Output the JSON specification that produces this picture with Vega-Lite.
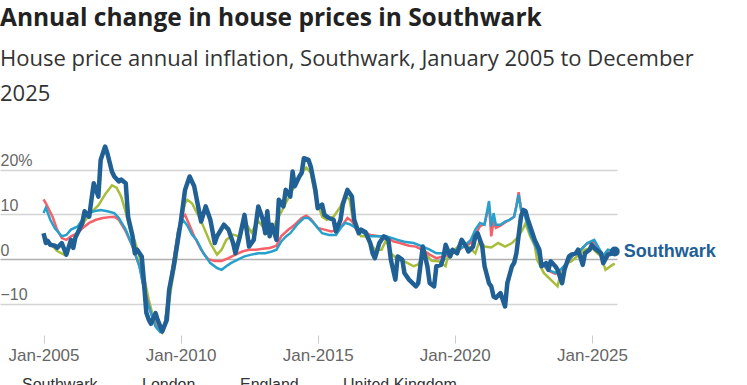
{
  "$schema": "https://vega.github.io/schema/vega-lite/v6.json",
  "autosize": {"type": "none"},
  "width": 617,
  "height": 192,
  "padding": {"left": 0, "top": 143, "right": 130, "bottom": 50},
  "background": "white",
  "title": {
    "text": "Annual change in house prices in Southwark",
    "subtitle": ["House price annual inflation, Southwark, January 2005 to December", "2025"],
    "anchor": "start",
    "frame": "group",
    "font": "Open Sans",
    "fontWeight": "bold",
    "fontSize": 24.5,
    "color": "#222222",
    "subtitleFont": "Open Sans",
    "subtitleFontSize": 22,
    "subtitleColor": "#333333",
    "subtitleLineHeight": 35,
    "subtitlePadding": 18,
    "offset": 37
  },
  "datasets": {
    "southwark": [
      {"d":"2005-01","v":5.8},{"d":"2005-02","v":3.6},{"d":"2005-03","v":4.0},{"d":"2005-04","v":3.2},{"d":"2005-06","v":3.0},{"d":"2005-07","v":2.5},{"d":"2005-09","v":3.6},{"d":"2005-11","v":1.0},
      {"d":"2006-01","v":4.3},{"d":"2006-02","v":2.5},{"d":"2006-03","v":4.8},{"d":"2006-06","v":8.1},{"d":"2006-07","v":10.7},{"d":"2006-09","v":9.5},{"d":"2006-10","v":13.3},{"d":"2006-11","v":17.0},
      {"d":"2007-01","v":14.0},{"d":"2007-02","v":22.2},{"d":"2007-04","v":25.2},{"d":"2007-05","v":23.7},{"d":"2007-07","v":19.6},{"d":"2007-08","v":18.5},{"d":"2007-10","v":17.4},{"d":"2007-11","v":17.8},
      {"d":"2008-01","v":17.0},{"d":"2008-02","v":9.5},{"d":"2008-04","v":5.1},{"d":"2008-05","v":1.3},{"d":"2008-06","v":2.1},{"d":"2008-08","v":0.6},{"d":"2008-09","v":-5.4},{"d":"2008-10","v":-12.0},{"d":"2008-11","v":-13.5},{"d":"2008-12","v":-14.5},
      {"d":"2009-02","v":-12.1},{"d":"2009-03","v":-13.6},{"d":"2009-05","v":-16.2},{"d":"2009-07","v":-13.6},{"d":"2009-08","v":-6.9},{"d":"2009-10","v":-1.6},
      {"d":"2010-01","v":8.1},{"d":"2010-03","v":15.5},{"d":"2010-05","v":18.5},{"d":"2010-07","v":16.3},{"d":"2010-09","v":11.0},{"d":"2010-10","v":8.4},{"d":"2010-12","v":11.8},
      {"d":"2011-02","v":8.8},{"d":"2011-04","v":3.6},{"d":"2011-05","v":5.1},{"d":"2011-08","v":7.7},{"d":"2011-10","v":6.6},{"d":"2011-12","v":3.6},
      {"d":"2012-01","v":1.3},{"d":"2012-03","v":5.1},{"d":"2012-05","v":9.9},{"d":"2012-07","v":2.8},{"d":"2012-09","v":4.3},{"d":"2012-11","v":11.8},
      {"d":"2013-01","v":8.8},{"d":"2013-02","v":5.8},{"d":"2013-03","v":10.7},{"d":"2013-04","v":5.1},{"d":"2013-05","v":7.7},{"d":"2013-07","v":4.3},{"d":"2013-08","v":13.3},{"d":"2013-10","v":11.8},{"d":"2013-11","v":15.5},
      {"d":"2014-01","v":14.0},{"d":"2014-02","v":19.6},{"d":"2014-03","v":16.3},{"d":"2014-05","v":18.5},{"d":"2014-06","v":19.3},{"d":"2014-07","v":22.6},{"d":"2014-09","v":22.2},{"d":"2014-10","v":20.7},{"d":"2014-12","v":15.5},
      {"d":"2015-01","v":11.4},{"d":"2015-03","v":12.2},{"d":"2015-04","v":9.9},{"d":"2015-06","v":9.2},{"d":"2015-08","v":8.8},{"d":"2015-09","v":6.2},{"d":"2015-11","v":8.8},{"d":"2015-12","v":12.2},
      {"d":"2016-02","v":15.5},{"d":"2016-04","v":14.0},{"d":"2016-05","v":8.8},{"d":"2016-07","v":5.8},{"d":"2016-08","v":6.6},{"d":"2016-10","v":6.0},{"d":"2016-12","v":3.6},
      {"d":"2017-01","v":1.3},{"d":"2017-02","v":0.2},{"d":"2017-04","v":3.6},{"d":"2017-06","v":5.1},{"d":"2017-08","v":4.3},{"d":"2017-09","v":-0.1},{"d":"2017-11","v":-4.6},{"d":"2017-12","v":0.6},
      {"d":"2018-02","v":-0.1},{"d":"2018-03","v":-3.1},{"d":"2018-05","v":-4.6},{"d":"2018-08","v":-6.1},{"d":"2018-09","v":-5.4},{"d":"2018-11","v":2.8},
      {"d":"2019-01","v":-1.6},{"d":"2019-02","v":-5.4},{"d":"2019-04","v":-6.1},{"d":"2019-05","v":-1.6},{"d":"2019-07","v":-1.3},{"d":"2019-08","v":0.2},{"d":"2019-09","v":3.2},{"d":"2019-11","v":0.6},{"d":"2019-12","v":2.1},
      {"d":"2020-02","v":1.3},{"d":"2020-04","v":4.3},{"d":"2020-06","v":2.8},{"d":"2020-07","v":1.7},{"d":"2020-09","v":2.8},{"d":"2020-10","v":5.1},{"d":"2020-11","v":5.8},
      {"d":"2021-01","v":2.8},{"d":"2021-02","v":-1.6},{"d":"2021-04","v":-5.4},{"d":"2021-05","v":-6.1},{"d":"2021-06","v":-8.4},{"d":"2021-07","v":-8.7},{"d":"2021-09","v":-7.6},{"d":"2021-10","v":-9.1},{"d":"2021-11","v":-10.6},{"d":"2021-12","v":-5.4},
      {"d":"2022-02","v":-1.6},{"d":"2022-03","v":-0.9},{"d":"2022-04","v":1.3},{"d":"2022-06","v":9.5},{"d":"2022-07","v":11.0},{"d":"2022-08","v":10.7},{"d":"2022-09","v":8.8},{"d":"2022-11","v":5.8},{"d":"2022-12","v":4.3},
      {"d":"2023-02","v":2.1},{"d":"2023-03","v":-1.6},{"d":"2023-05","v":-0.9},{"d":"2023-06","v":-2.4},{"d":"2023-07","v":-0.5},{"d":"2023-09","v":-1.6},{"d":"2023-10","v":-2.4},{"d":"2023-12","v":-5.4},
      {"d":"2024-01","v":-2.4},{"d":"2024-03","v":0.6},{"d":"2024-04","v":1.0},{"d":"2024-06","v":1.3},{"d":"2024-07","v":2.1},{"d":"2024-09","v":-1.3},{"d":"2024-10","v":1.3},{"d":"2024-12","v":2.1},
      {"d":"2025-01","v":3.2},{"d":"2025-02","v":2.5},{"d":"2025-05","v":1.3},{"d":"2025-06","v":-0.9},{"d":"2025-08","v":1.0},{"d":"2025-10","v":1.3},{"d":"2025-11","v":1.7}
    ],
    "london": [
      {"d":"2005-01","v":5.5},{"d":"2005-04","v":3.5},{"d":"2005-07","v":1.8},{"d":"2005-10","v":1.0},{"d":"2006-01","v":3.0},{"d":"2006-04","v":5.5},{"d":"2006-07","v":8.5},{"d":"2006-10","v":10.5},
      {"d":"2007-01","v":12.0},{"d":"2007-04","v":14.5},{"d":"2007-07","v":16.5},{"d":"2007-09","v":16.0},{"d":"2007-11","v":14.0},{"d":"2008-01","v":10.5},{"d":"2008-03","v":6.5},{"d":"2008-05","v":4.0},{"d":"2008-07","v":0.5},{"d":"2008-09","v":-4.0},{"d":"2008-11","v":-9.0},
      {"d":"2009-01","v":-13.0},{"d":"2009-03","v":-15.5},{"d":"2009-05","v":-16.5},{"d":"2009-07","v":-13.5},{"d":"2009-09","v":-6.0},{"d":"2009-11","v":0.0},
      {"d":"2010-01","v":8.0},{"d":"2010-03","v":12.5},{"d":"2010-04","v":13.3},{"d":"2010-06","v":12.5},{"d":"2010-09","v":9.5},{"d":"2010-11","v":7.3},
      {"d":"2011-02","v":3.6},{"d":"2011-05","v":1.0},{"d":"2011-07","v":2.1},{"d":"2011-09","v":4.3},{"d":"2011-12","v":5.5},
      {"d":"2012-03","v":5.0},{"d":"2012-05","v":8.5},{"d":"2012-08","v":6.0},{"d":"2012-11","v":8.5},{"d":"2013-02","v":6.6},{"d":"2013-05","v":6.6},{"d":"2013-08","v":9.5},{"d":"2013-11","v":12.5},
      {"d":"2014-02","v":15.5},{"d":"2014-05","v":18.5},{"d":"2014-08","v":20.5},{"d":"2014-10","v":19.3},{"d":"2014-12","v":14.0},
      {"d":"2015-03","v":9.5},{"d":"2015-05","v":8.8},{"d":"2015-08","v":9.5},{"d":"2015-11","v":11.8},{"d":"2016-01","v":14.4},{"d":"2016-03","v":13.3},{"d":"2016-05","v":7.3},{"d":"2016-08","v":5.1},{"d":"2016-10","v":5.1},
      {"d":"2017-02","v":2.1},{"d":"2017-05","v":2.1},{"d":"2017-07","v":4.3},{"d":"2017-09","v":1.3},{"d":"2017-12","v":-0.1},{"d":"2018-03","v":-0.5},{"d":"2018-07","v":-1.6},{"d":"2018-09","v":-1.2},{"d":"2018-12","v":1.3},
      {"d":"2019-03","v":-0.4},{"d":"2019-06","v":-0.5},{"d":"2019-09","v":-1.6},{"d":"2019-10","v":0.6},{"d":"2020-01","v":2.1},{"d":"2020-04","v":3.6},{"d":"2020-07","v":2.8},{"d":"2020-10","v":1.3},{"d":"2020-12","v":4.3},
      {"d":"2021-02","v":2.8},{"d":"2021-05","v":2.6},{"d":"2021-08","v":3.6},{"d":"2021-11","v":2.8},{"d":"2022-02","v":3.6},{"d":"2022-05","v":5.1},{"d":"2022-07","v":6.9},{"d":"2022-08","v":8.0},{"d":"2022-10","v":5.1},{"d":"2022-12","v":3.0},
      {"d":"2023-01","v":-0.1},{"d":"2023-04","v":-3.1},{"d":"2023-07","v":-4.6},{"d":"2023-10","v":-6.1},{"d":"2023-11","v":-4.0},{"d":"2024-02","v":-0.9},{"d":"2024-04","v":-0.5},{"d":"2024-07","v":0.8},{"d":"2024-10","v":2.1},
      {"d":"2025-01","v":2.5},{"d":"2025-03","v":1.5},{"d":"2025-05","v":0.6},{"d":"2025-07","v":-2.4},{"d":"2025-10","v":-1.3},{"d":"2025-11","v":-1.0}
    ],
    "england": [
      {"d":"2005-01","v":13.4},{"d":"2005-02","v":12.5},{"d":"2005-05","v":9.5},{"d":"2005-07","v":6.6},{"d":"2005-09","v":4.7},{"d":"2005-11","v":4.3},{"d":"2006-01","v":5.1},{"d":"2006-04","v":5.8},{"d":"2006-06","v":6.9},{"d":"2006-09","v":8.1},{"d":"2006-12","v":8.8},
      {"d":"2007-03","v":9.2},{"d":"2007-06","v":9.4},{"d":"2007-08","v":9.5},{"d":"2007-10","v":8.8},{"d":"2008-01","v":6.2},{"d":"2008-04","v":2.8},{"d":"2008-07","v":-1.5},{"d":"2008-09","v":-6.5},{"d":"2008-12","v":-12.0},
      {"d":"2009-02","v":-14.8},{"d":"2009-04","v":-16.0},{"d":"2009-06","v":-15.0},{"d":"2009-08","v":-7.0},{"d":"2009-10","v":0.0},{"d":"2009-12","v":6.5},
      {"d":"2010-02","v":9.5},{"d":"2010-03","v":9.9},{"d":"2010-05","v":7.5},{"d":"2010-07","v":5.1},{"d":"2010-10","v":2.1},{"d":"2011-01","v":0.0},{"d":"2011-04","v":-0.4},{"d":"2011-07","v":-0.4},{"d":"2011-10","v":0.2},
      {"d":"2012-01","v":1.0},{"d":"2012-04","v":1.7},{"d":"2012-07","v":2.1},{"d":"2012-10","v":2.1},{"d":"2013-01","v":2.3},{"d":"2013-04","v":2.5},{"d":"2013-07","v":3.0},{"d":"2013-09","v":5.1},{"d":"2013-12","v":6.5},
      {"d":"2014-03","v":7.7},{"d":"2014-06","v":9.2},{"d":"2014-08","v":9.7},{"d":"2014-10","v":9.0},{"d":"2015-01","v":7.0},{"d":"2015-04","v":6.6},{"d":"2015-07","v":6.2},{"d":"2015-10","v":6.6},{"d":"2015-12","v":7.7},
      {"d":"2016-02","v":9.2},{"d":"2016-04","v":8.5},{"d":"2016-06","v":6.6},{"d":"2016-09","v":6.2},{"d":"2016-12","v":5.4},{"d":"2017-04","v":5.1},{"d":"2017-07","v":5.1},{"d":"2017-10","v":4.0},
      {"d":"2018-01","v":3.6},{"d":"2018-05","v":3.0},{"d":"2018-08","v":2.8},{"d":"2018-11","v":2.0},{"d":"2019-02","v":1.0},{"d":"2019-05","v":0.2},{"d":"2019-08","v":0.6},{"d":"2019-11","v":1.0},
      {"d":"2020-02","v":1.7},{"d":"2020-05","v":2.8},{"d":"2020-08","v":3.6},{"d":"2020-10","v":5.5},{"d":"2020-12","v":7.3},{"d":"2021-02","v":8.0},{"d":"2021-04","v":12.0},{"d":"2021-05","v":5.1},{"d":"2021-06","v":8.5},{"d":"2021-07","v":7.0},{"d":"2021-09","v":7.5},{"d":"2021-11","v":8.2},
      {"d":"2022-01","v":8.8},{"d":"2022-03","v":9.5},{"d":"2022-04","v":12.0},{"d":"2022-05","v":15.0},{"d":"2022-06","v":11.5},{"d":"2022-07","v":11.0},{"d":"2022-09","v":8.0},{"d":"2022-10","v":6.0},
      {"d":"2023-01","v":2.1},{"d":"2023-03","v":-0.9},{"d":"2023-06","v":-2.6},{"d":"2023-09","v":-3.3},{"d":"2023-11","v":-2.6},{"d":"2024-02","v":-1.0},{"d":"2024-05","v":1.0},{"d":"2024-08","v":2.0},{"d":"2024-11","v":3.5},
      {"d":"2025-02","v":4.0},{"d":"2025-04","v":2.0},{"d":"2025-06","v":0.5},{"d":"2025-08","v":1.5},{"d":"2025-11","v":1.3}
    ],
    "uk": [
      {"d":"2005-01","v":10.3},{"d":"2005-02","v":11.5},{"d":"2005-04","v":8.8},{"d":"2005-06","v":6.9},{"d":"2005-09","v":5.1},{"d":"2005-11","v":5.4},{"d":"2006-01","v":6.6},{"d":"2006-04","v":7.3},{"d":"2006-06","v":8.8},{"d":"2006-09","v":10.3},{"d":"2006-11","v":10.7},
      {"d":"2007-02","v":11.0},{"d":"2007-05","v":10.7},{"d":"2007-08","v":10.3},{"d":"2007-10","v":9.2},{"d":"2008-01","v":6.6},{"d":"2008-04","v":2.8},{"d":"2008-07","v":-1.6},{"d":"2008-09","v":-6.9},{"d":"2008-12","v":-12.1},
      {"d":"2009-02","v":-15.1},{"d":"2009-04","v":-16.3},{"d":"2009-06","v":-15.0},{"d":"2009-08","v":-7.0},{"d":"2009-10","v":-0.5},{"d":"2009-12","v":6.5},
      {"d":"2010-02","v":8.8},{"d":"2010-04","v":7.5},{"d":"2010-06","v":5.5},{"d":"2010-08","v":4.3},{"d":"2010-11","v":1.3},{"d":"2011-02","v":-0.9},{"d":"2011-05","v":-2.0},{"d":"2011-07","v":-2.4},{"d":"2011-09","v":-1.6},{"d":"2011-11","v":-0.9},
      {"d":"2012-02","v":-0.1},{"d":"2012-05","v":0.6},{"d":"2012-08","v":1.0},{"d":"2012-11","v":1.3},{"d":"2013-02","v":1.3},{"d":"2013-05","v":1.7},{"d":"2013-07","v":2.1},{"d":"2013-09","v":3.9},{"d":"2013-11","v":5.0},
      {"d":"2014-01","v":5.8},{"d":"2014-04","v":7.7},{"d":"2014-07","v":9.2},{"d":"2014-09","v":9.2},{"d":"2014-11","v":8.2},{"d":"2015-01","v":7.0},{"d":"2015-03","v":5.8},{"d":"2015-06","v":5.4},{"d":"2015-09","v":5.4},{"d":"2015-11","v":6.9},
      {"d":"2016-01","v":8.1},{"d":"2016-03","v":7.8},{"d":"2016-06","v":6.9},{"d":"2016-09","v":5.8},{"d":"2016-12","v":5.1},{"d":"2017-04","v":5.1},{"d":"2017-07","v":5.1},{"d":"2017-09","v":4.8},{"d":"2017-12","v":4.3},
      {"d":"2018-03","v":3.9},{"d":"2018-07","v":3.6},{"d":"2018-11","v":2.8},{"d":"2019-02","v":2.1},{"d":"2019-05","v":1.3},{"d":"2019-08","v":1.3},{"d":"2019-11","v":1.0},
      {"d":"2020-02","v":2.1},{"d":"2020-05","v":2.8},{"d":"2020-08","v":4.3},{"d":"2020-10","v":6.6},{"d":"2020-12","v":8.1},{"d":"2021-02","v":7.7},{"d":"2021-04","v":13.0},{"d":"2021-05","v":7.3},{"d":"2021-06","v":10.3},{"d":"2021-07","v":7.7},{"d":"2021-09","v":7.7},{"d":"2021-11","v":8.4},
      {"d":"2022-01","v":8.8},{"d":"2022-03","v":9.5},{"d":"2022-04","v":11.8},{"d":"2022-05","v":14.4},{"d":"2022-06","v":11.0},{"d":"2022-07","v":11.0},{"d":"2022-09","v":7.3},{"d":"2022-10","v":5.8},
      {"d":"2023-01","v":2.1},{"d":"2023-03","v":-0.9},{"d":"2023-06","v":-2.4},{"d":"2023-09","v":-3.1},{"d":"2023-11","v":-2.5},{"d":"2024-02","v":-0.9},{"d":"2024-05","v":1.1},{"d":"2024-08","v":2.0},{"d":"2024-11","v":3.6},
      {"d":"2025-02","v":4.3},{"d":"2025-04","v":2.5},{"d":"2025-06","v":0.8},{"d":"2025-08","v":2.1},{"d":"2025-11","v":1.7}
    ]
  },
  "encoding": {
    "x": {
      "field": "d", "type": "temporal",
      "scale": {"domain": [{"year": 2003, "month": 6, "date": 1}, {"year": 2025, "month": 12, "date": 1}]},
      "axis": {
        "title": null,
        "values": [{"year": 2005, "month": 1, "date": 1}, {"year": 2010, "month": 1, "date": 1}, {"year": 2015, "month": 1, "date": 1}, {"year": 2020, "month": 1, "date": 1}, {"year": 2025, "month": 1, "date": 1}],
        "format": "%b-%Y",
        "domain": false,
        "grid": false,
        "tickColor": "#cccccc",
        "tickSize": 8,
        "tickWidth": 1,
        "labelPadding": 4,
        "labelFont": "Liberation Sans",
        "labelFontSize": 17,
        "labelColor": "#666666",
        "labelOverlap": false
      }
    },
    "y": {
      "field": "v", "type": "quantitative",
      "scale": {"domain": [-17, 26], "nice": false, "zero": false},
      "axis": {
        "title": null,
        "values": [-10, 0, 10, 20],
        "labelExpr": "datum.value == 20 ? '20%' : datum.label",
        "domain": false,
        "ticks": false,
        "tickSize": 0,
        "grid": true,
        "gridColor": {"condition": {"test": "datum.value === 0", "value": "#b0b0b0"}, "value": "#d4d4d4"},
        "gridWidth": 1.5,
        "labelAlign": "left",
        "labelBaseline": "alphabetic",
        "labelPadding": 0,
        "labelOffset": -4,
        "labelFont": "Liberation Sans",
        "labelFontSize": 16,
        "labelColor": "#666666"
      }
    }
  },
  "layer": [
    {
      "data": {"name": "london"},
      "mark": {"type": "line", "strokeWidth": 2.5, "interpolate": "linear"},
      "encoding": {
        "color": {
          "datum": "London",
          "scale": {"domain": ["Southwark", "London", "England", "United Kingdom"], "range": ["#206095", "#A8BD3A", "#F66068", "#27A0CC"]},
          "legend": {
            "orient": "none", "legendX": 2, "legendY": 234, "direction": "horizontal", "title": null,
            "symbolType": "circle", "symbolSize": 60, "symbolStrokeWidth": 0,
            "labelFont": "Liberation Sans", "labelFontSize": 16, "labelColor": "#333333", "columnPadding": 24
          }
        }
      }
    },
    {
      "data": {"name": "england"},
      "mark": {"type": "line", "strokeWidth": 2.5},
      "encoding": {"color": {"datum": "England"}}
    },
    {
      "data": {"name": "uk"},
      "mark": {"type": "line", "strokeWidth": 2.5},
      "encoding": {"color": {"datum": "United Kingdom"}}
    },
    {
      "data": {"name": "southwark"},
      "mark": {"type": "line", "strokeWidth": 4.5, "strokeJoin": "round"},
      "encoding": {"color": {"datum": "Southwark"}}
    },
    {
      "data": {"name": "southwark"},
      "transform": [
        {"window": [{"op": "row_number", "as": "r"}], "sort": [{"field": "d", "order": "descending"}]},
        {"filter": "datum.r == 1"}
      ],
      "mark": {"type": "point", "filled": true, "size": 100, "color": "#206095", "opacity": 1}
    },
    {
      "data": {"name": "southwark"},
      "transform": [
        {"window": [{"op": "row_number", "as": "r"}], "sort": [{"field": "d", "order": "descending"}]},
        {"filter": "datum.r == 1"}
      ],
      "mark": {"type": "text", "align": "left", "baseline": "middle", "dx": 9, "font": "Liberation Sans", "fontWeight": "bold", "fontSize": 18, "color": "#206095"},
      "encoding": {"text": {"value": "Southwark"}}
    }
  ],
  "config": {
    "view": {"stroke": null}
  }
}
